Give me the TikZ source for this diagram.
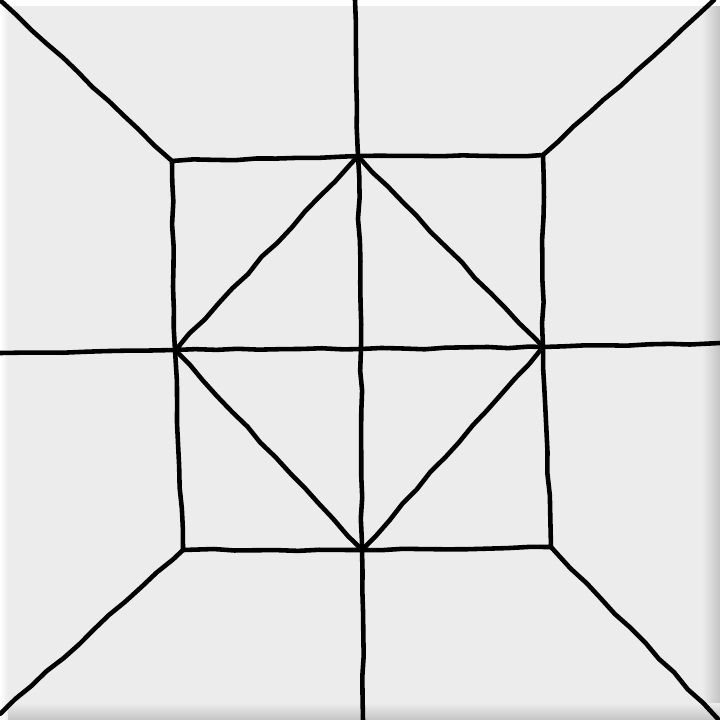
\documentclass[tikz,border=0pt]{standalone}
\usepackage{xcolor}
\usepackage{tikz}
\usetikzlibrary{decorations.pathmorphing}

\definecolor{tilegray}{RGB}{236,236,236}
\definecolor{tileshade}{RGB}{196,196,196}

\begin{document}
\begin{tikzpicture}[
      x=0.01cm, y=-0.01cm,
      pen/.style={line width=1.3pt, line cap=round, line join=round,
        decorate, decoration={random steps, segment length=6pt, amplitude=0.3pt}},
      ]
      \pgfmathsetseed{7}
      \useasboundingbox (0,0) rectangle (720,720);

      % tile
      \fill[white] (0,0) rectangle (720,720);
      \fill[tilegray] (8,6) rectangle (720,720);
      \shade[left color=tilegray, right color=tileshade] (702,6) rectangle (720,720);
      \shade[top color=tilegray, bottom color=tileshade] (8,703) rectangle (720,720);
      \shade[left color=white, right color=tilegray] (0,6) rectangle (8,720);

      % outer ends
      \coordinate (otl) at (0,0);
      \coordinate (otr) at (714,0);
      \coordinate (obl) at (0,714);
      \coordinate (obr) at (718,719);
      \coordinate (otop) at (355,0);
      \coordinate (obot) at (363,720);
      \coordinate (oleft) at (0,353);
      \coordinate (oright) at (720,343);

      % inner square
      \coordinate (tl) at (172,161);
      \coordinate (tr) at (543,155);
      \coordinate (br) at (551,547);
      \coordinate (bl) at (183,550);

      % diamond
      \coordinate (top) at (358,156);
      \coordinate (left) at (175,350);
      \coordinate (right) at (543,347);
      \coordinate (bot) at (362,550);
      \coordinate (c) at (361,349);

      \draw[pen] (otl) -- (tl);
      \draw[pen] (otr) -- (tr);
      \draw[pen] (obl) -- (bl);
      \draw[pen] (obr) -- (br);

      \draw[pen] (tl) -- (top) -- (tr) -- (right) -- (br) -- (bot) -- (bl) -- (left) -- cycle;

      \draw[pen] (top) -- (right) -- (bot) -- (left) -- cycle;

      \draw[pen] (otop) -- (top) -- (c) -- (bot) -- (obot);
      \draw[pen] (oleft) -- (left) -- (c) -- (right) -- (oright);
    \end{tikzpicture}
\end{document}
